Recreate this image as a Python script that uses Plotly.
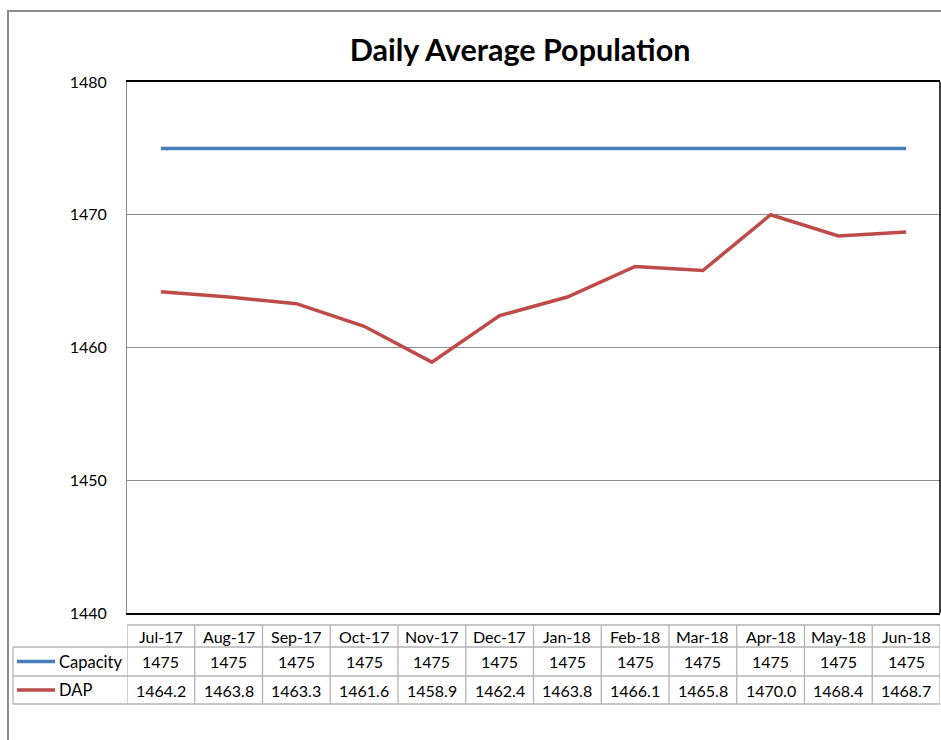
import plotly.graph_objects as go

months = ["Jul-17", "Aug-17", "Sep-17", "Oct-17", "Nov-17", "Dec-17",
          "Jan-18", "Feb-18", "Mar-18", "Apr-18", "May-18", "Jun-18"]
capacity = [1475, 1475, 1475, 1475, 1475, 1475, 1475, 1475, 1475, 1475, 1475, 1475]
dap = [1464.2, 1463.8, 1463.3, 1461.6, 1458.9, 1462.4,
       1463.8, 1466.1, 1465.8, 1470.0, 1468.4, 1468.7]
y_ticks = [1440, 1450, 1460, 1470, 1480]

W, H = 941, 740
L, R, T, B = 127, 940, 82, 613
FONT = "Lato"
BLUE = "#4A7EBB"
RED = "#BE4B48"
CELL = "#B3B3B3"

def px_x(p):
    return (p - L) / (R - L)

def px_y(p):
    return (B - p) / (B - T)

fig = go.Figure()
fig.add_trace(go.Scatter(x=months, y=capacity, name="Capacity", mode="lines",
                         line=dict(color=BLUE, width=3.5)))
fig.add_trace(go.Scatter(x=months, y=dap, name="DAP", mode="lines",
                         line=dict(color=RED, width=3.5)))

shapes = []
annotations = []

# outer chart border (extends past the visible page)
shapes.append(dict(type="rect", xref="paper", yref="paper",
                   x0=px_x(8), x1=px_x(1000), y0=px_y(800), y1=px_y(11),
                   line=dict(color="#8C8C8C", width=2), layer="below"))
# right plot border
shapes.append(dict(type="line", xref="paper", yref="paper",
                   x0=1, x1=1, y0=0, y1=1, line=dict(color="#000000", width=1.5)))

# data table
row_lines = [625, 647, 676, 704]
n = len(months)
for i, yy in enumerate(row_lines):
    x0 = px_x(L) if i == 0 else px_x(13)
    shapes.append(dict(type="line", xref="paper", yref="paper",
                       x0=x0, x1=1, y0=px_y(yy), y1=px_y(yy),
                       line=dict(color=CELL, width=1.3)))
for k in range(n + 1):
    shapes.append(dict(type="line", xref="x", yref="paper",
                       x0=k - 0.5, x1=k - 0.5, y0=px_y(625), y1=px_y(704),
                       line=dict(color=CELL, width=1.3)))
shapes.append(dict(type="line", xref="paper", yref="paper",
                   x0=px_x(13), x1=px_x(13), y0=px_y(647), y1=px_y(704),
                   line=dict(color=CELL, width=1.3)))

row_centers = [636, 661.5, 690]
tfont = dict(family=FONT, size=16, color="#000000")
for m, c, d in zip(months, capacity, dap):
    annotations.append(dict(x=m, y=px_y(row_centers[0]), xref="x", yref="paper",
                            text=m, showarrow=False, font=tfont, yanchor="middle"))
    annotations.append(dict(x=m, y=px_y(row_centers[1]), xref="x", yref="paper",
                            text=f"{c:d}", showarrow=False, font=tfont, yanchor="middle"))
    annotations.append(dict(x=m, y=px_y(row_centers[2]), xref="x", yref="paper",
                            text=f"{d:.1f}", showarrow=False, font=tfont, yanchor="middle"))

for name, color, yc in [("Capacity", BLUE, row_centers[1]), ("DAP", RED, row_centers[2])]:
    shapes.append(dict(type="line", xref="paper", yref="paper",
                       x0=px_x(17), x1=px_x(55), y0=px_y(yc), y1=px_y(yc),
                       line=dict(color=color, width=3.5)))
    annotations.append(dict(x=px_x(57), y=px_y(yc), xref="paper", yref="paper",
                            text=name, showarrow=False,
                            font=dict(family=FONT, size=16.5, color="#000000"),
                            xanchor="left", yanchor="middle"))

fig.update_layout(
    width=W, height=H,
    margin=dict(l=L, r=W - R, t=T, b=H - B, pad=0),
    paper_bgcolor="white", plot_bgcolor="white",
    showlegend=False,
    title=dict(text="<b>Daily Average Population</b>", x=520 / W,
               xanchor="center", y=1 - 50 / H, yanchor="middle",
               font=dict(family=FONT, size=30.5, color="#000000")),
    xaxis=dict(type="category", range=[-0.5, n - 0.5], showticklabels=False,
               showgrid=False, showline=True, linecolor="#000000", linewidth=1.5,
               mirror=True, ticks="", zeroline=False),
    yaxis=dict(range=[1440, 1480], tickvals=y_ticks, showgrid=True,
               gridcolor="#8C8C8C", gridwidth=1, showline=True,
               linecolor="#8C8C8C", linewidth=1, ticks="",
               ticklabelstandoff=16, zeroline=False,
               tickfont=dict(family=FONT, size=16, color="#000000")),
    shapes=shapes, annotations=annotations,
)

fig.write_html("out.html", config={"displayModeBar": False},
               post_script="document.body.style.margin='0';document.body.style.overflow='hidden';")
